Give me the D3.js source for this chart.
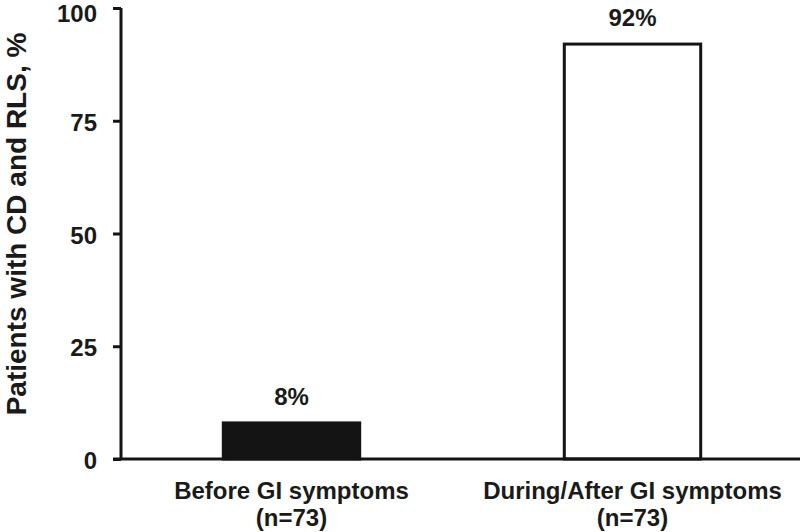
<!DOCTYPE html>
<html>
<head>
<meta charset="utf-8">
<script src="https://cdn.jsdelivr.net/npm/d3@7"></script>
<style>
  body { margin: 0; background: #fff; }
  text { font-family: "Liberation Sans", Arial, sans-serif; font-weight: bold; fill: #1a1a1a; }
</style>
</head>
<body>
<div id="chart"></div>
<script>
// data
var categories = ["Before GI symptoms", "During/After GI symptoms"];
var subLabels = ["(n=73)", "(n=73)"];
var values = [8, 92];
var barFills = ["#141414", "#ffffff"];
var yTicks = [0, 25, 50, 75, 100];

var W = 800, H = 532;
var margin = {left: 121, right: -3, top: 8, bottom: 73};

var svg = d3.select("#chart")
    .append("svg")
    .attr("width", W)
    .attr("height", H);

var y = d3.scaleLinear()
    .domain([0, 100])
    .range([H - margin.bottom, margin.top]);

var x = d3.scaleBand()
    .domain(categories)
    .range([margin.left, W - margin.right])
    .paddingInner(0.6)
    .paddingOuter(0.3);

// bars
svg.selectAll("rect.bar")
    .data(values)
    .enter().append("rect")
    .attr("class", "bar")
    .attr("x", function (d, i) { return x(categories[i]); })
    .attr("y", function (d) { return y(d); })
    .attr("width", x.bandwidth())
    .attr("height", function (d) { return y(0) - y(d); })
    .attr("fill", function (d, i) { return barFills[i]; })
    .attr("stroke", "#141414")
    .attr("stroke-width", 3);

// value labels
svg.selectAll("text.val")
    .data(values)
    .enter().append("text")
    .attr("class", "val")
    .attr("x", function (d, i) { return x(categories[i]) + x.bandwidth() / 2; })
    .attr("y", function (d) { return y(d) - 18; })
    .attr("text-anchor", "middle")
    .style("font-size", "24px")
    .text(function (d) { return d + "%"; });

// y axis
var yAxis = svg.append("g")
    .attr("transform", "translate(" + margin.left + ",0)")
    .call(d3.axisLeft(y).tickValues(yTicks).tickSize(8).tickPadding(16));
yAxis.select(".domain").attr("stroke", "#141414").attr("stroke-width", 3)
    .attr("d", "M0," + y(100) + "V" + y(0));
yAxis.selectAll(".tick line").attr("stroke", "#141414").attr("stroke-width", 3);
yAxis.selectAll(".tick text")
    .attr("dy", function (d) { return d === 100 ? "0.55em" : "0.4em"; })
    .style("font-size", "24px")
    .style("font-family", "'Liberation Sans', Arial, sans-serif")
    .style("font-weight", "bold")
    .attr("fill", "#1a1a1a");

// x baseline
svg.append("line")
    .attr("x1", margin.left - 8)
    .attr("x2", W)
    .attr("y1", y(0))
    .attr("y2", y(0))
    .attr("stroke", "#141414")
    .attr("stroke-width", 3);

// category labels
var cat = svg.selectAll("text.cat")
    .data(categories)
    .enter().append("text")
    .attr("class", "cat")
    .attr("text-anchor", "middle")
    .style("font-size", "24px");
cat.append("tspan")
    .attr("x", function (d) { return x(d) + x.bandwidth() / 2; })
    .attr("y", 499)
    .text(function (d) { return d; });
cat.append("tspan")
    .attr("x", function (d) { return x(d) + x.bandwidth() / 2; })
    .attr("y", 526)
    .text(function (d, i) { return subLabels[i]; });

// y title
svg.append("text")
    .attr("transform", "translate(26,224) rotate(-90)")
    .attr("text-anchor", "middle")
    .style("font-size", "28px")
    .text("Patients with CD and RLS, %");
</script>
</body>
</html>
